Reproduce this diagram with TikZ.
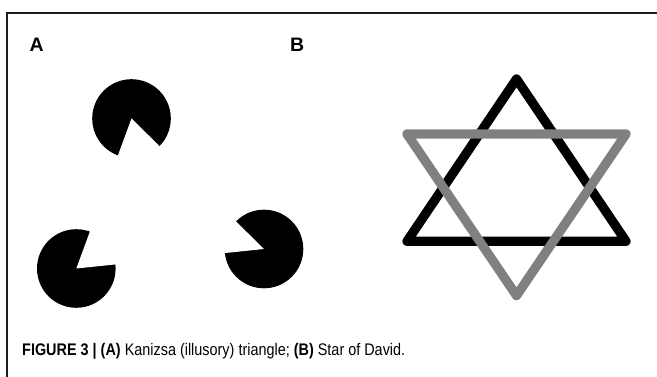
\documentclass[tikz,border=0pt]{standalone}
\usepackage{fontspec}
\setmainfont{Liberation Sans}
\usepackage{graphicx}
\definecolor{stargray}{RGB}{128,128,128}
\definecolor{framegray}{RGB}{30,30,30}
\begin{document}
\begin{tikzpicture}[x=1pt,y=-1pt,
  panellabel/.style={font=\fontsize{19.5}{22}\selectfont\bfseries, anchor=base west, inner sep=0pt},
  pacfill/.style={fill=black},
  blacktri/.style={draw=black, line width=9.3pt, line join=round},
  graytri/.style={draw=stargray, line width=9.3pt, line join=round},
  framestyle/.style={draw=framegray, line width=1.3pt}]
\useasboundingbox (0,0) rectangle (657,377);
% frame
\coordinate (fr) at (657,13);
\coordinate (fc) at (7,13);
\coordinate (fb) at (7,377);
\draw[framestyle] (fr) -- (fc) -- (fb);
% labels
\node[panellabel] (la) at (29.5,52) {A};
\node[panellabel] (lb) at (290,52) {B};
% Kanizsa
\coordinate (pt) at (131.5,118.5);
\coordinate (pl) at (76.3,268.5);
\coordinate (pr) at (264,249);
\fill[pacfill] (pt) circle (39.3);
\fill[pacfill] (pl) circle (39.3);
\fill[pacfill] (pr) circle (39.3);
\fill[white] (pt) -- (pl) -- (pr) -- cycle;
% Star of David
\coordinate (b1) at (516.5,79);
\coordinate (b2) at (407,241.3);
\coordinate (b3) at (626,241.3);
\coordinate (g1) at (407,134);
\coordinate (g2) at (626,134);
\coordinate (g3) at (516.5,295.6);
\draw[blacktri] (b1) -- (b2) -- (b3) -- cycle;
\draw[graytri] (g1) -- (g2) -- (g3) -- cycle;
% caption
\node[anchor=base west, inner sep=0pt] (cap) at (22,355.5)
  {\resizebox{383pt}{\height}{\fontsize{16.8}{19}\selectfont\textbf{FIGURE 3 | (A)} Kanizsa (illusory) triangle; \textbf{(B)} Star of David.}};
\end{tikzpicture}
\end{document}
